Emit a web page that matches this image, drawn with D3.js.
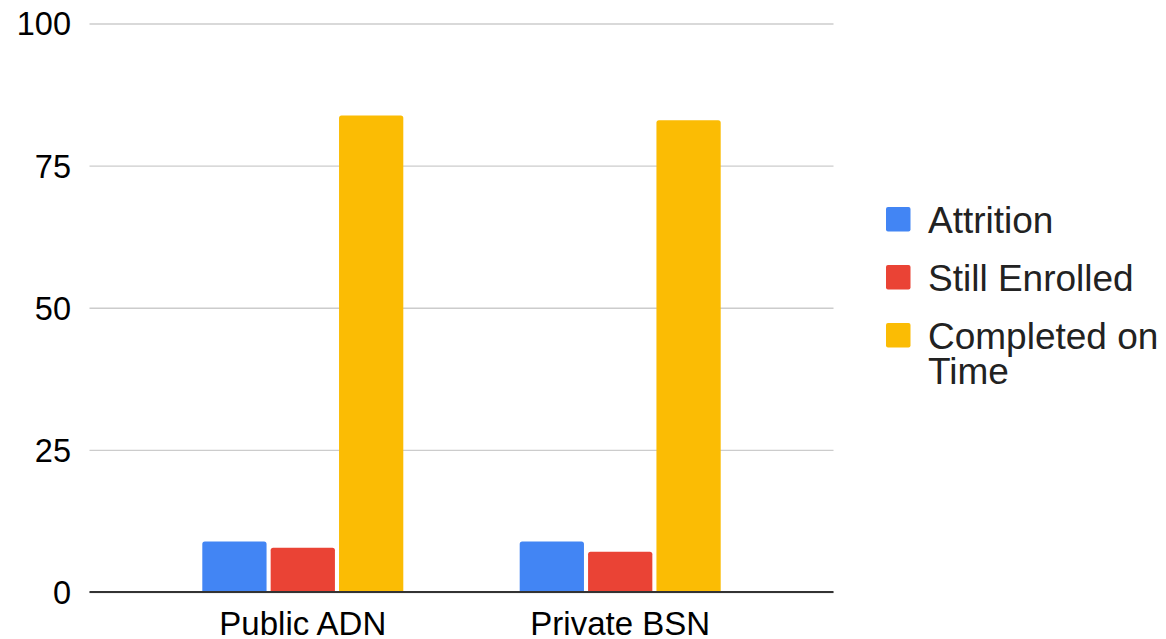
<!DOCTYPE html>
<html>
<head>
<meta charset="utf-8">
<script src="https://cdn.jsdelivr.net/npm/d3@7/dist/d3.min.js"></script>
<style>
  html, body { margin: 0; padding: 0; background: #fff; }
  svg { display: block; font-family: "Liberation Sans", Arial, sans-serif; }
</style>
</head>
<body>
<svg id="chart" width="1166" height="639"></svg>
<script>
const categories = ["Public ADN", "Private BSN"];
const seriesNames = ["Attrition", "Still Enrolled", "Completed on Time"];
const attrition = [8.9, 8.9];
const stillEnrolled = [7.8, 7.1];
const completedOnTime = [83.8, 83.0];
const yTicks = [0, 25, 50, 75, 100];
const colors = ["#4285F4", "#EA4335", "#FBBC04"];

(function () {
const seriesValues = [attrition, stillEnrolled, completedOnTime];
const rows = categories.map((c, i) => ({
  category: c,
  values: seriesNames.map((s, j) => ({ key: s, value: seriesValues[j][i] }))
}));

const svg = d3.select("#chart");
const plotLeft = 89.5, plotRight = 833.5, plotTop = 23.5, plotBottom = 592;

const y = d3.scaleLinear().domain([0, 100]).range([plotBottom, plotTop]);
const x0 = d3.scaleBand().domain(categories).range([plotLeft, plotRight])
  .paddingInner(0).paddingOuter(0.172);
const groupW = 201;
const x1 = d3.scaleBand().domain(seriesNames).range([0, groupW]).paddingInner(0.06).paddingOuter(0);
const color = d3.scaleOrdinal().domain(seriesNames).range(colors);

// gridlines
const yAxis = d3.axisLeft(y).tickValues(yTicks).tickSize(-(plotRight - plotLeft)).tickFormat(d3.format("d"));
const gy = svg.append("g").attr("transform", `translate(${plotLeft},0)`).call(yAxis);
gy.select(".domain").remove();
gy.selectAll(".tick line").attr("stroke", "#cccccc").attr("stroke-width", 1.3);
gy.selectAll(".tick text")
  .attr("x", -18.5).attr("dy", "0.35em")
  .attr("fill", "#000").attr("font-size", "32.5px")
  .attr("font-family", "Liberation Sans, Arial, sans-serif");

// bars
const groups = svg.append("g").selectAll("g").data(rows).join("g")
  .attr("transform", d => `translate(${x0(d.category) + x0.bandwidth() / 2 - groupW / 2},0)`);

const r = 2.5;
groups.selectAll("path").data(d => d.values).join("path")
  .attr("fill", d => color(d.key))
  .attr("d", d => {
    const xa = x1(d.key), w = x1.bandwidth();
    const yt = y(d.value), yb = y(0);
    return `M${xa},${yb}V${yt + r}Q${xa},${yt} ${xa + r},${yt}H${xa + w - r}Q${xa + w},${yt} ${xa + w},${yt + r}V${yb}Z`;
  });

// baseline
svg.append("line")
  .attr("x1", plotLeft).attr("x2", plotRight)
  .attr("y1", y(0)).attr("y2", y(0))
  .attr("stroke", "#333").attr("stroke-width", 2);

// x axis labels
const xAxis = d3.axisBottom(x0).tickSize(0).tickPadding(0);
const gx = svg.append("g").attr("transform", `translate(0,${y(0)})`).call(xAxis);
gx.select(".domain").remove();
gx.selectAll(".tick text")
  .attr("y", 42.5).attr("dy", "0")
  .attr("fill", "#000").attr("font-size", "33px")
  .attr("font-family", "Liberation Sans, Arial, sans-serif");

// legend
const legendLines = [["Attrition"], ["Still Enrolled"], ["Completed on", "Time"]];
const leg = svg.append("g").attr("transform", "translate(886,0)");
const legCenters = [219.5, 277.5, 335.5];
seriesNames.forEach((s, i) => {
  const g = leg.append("g").attr("transform", `translate(0,${legCenters[i]})`);
  g.append("rect").attr("x", 0).attr("y", -12.5).attr("width", 24.5).attr("height", 24.5)
    .attr("rx", 2).attr("fill", color(s));
  const t = g.append("text").attr("x", 42).attr("y", 0)
    .attr("font-size", "37px").attr("fill", "#222")
    .attr("font-family", "Liberation Sans, Arial, sans-serif");
  legendLines[i].forEach((ln, k) => {
    t.append("tspan").attr("x", 42).attr("dy", k === 0 ? "0.36em" : "35px").text(ln);
  });
});
})();
</script>
</body>
</html>
